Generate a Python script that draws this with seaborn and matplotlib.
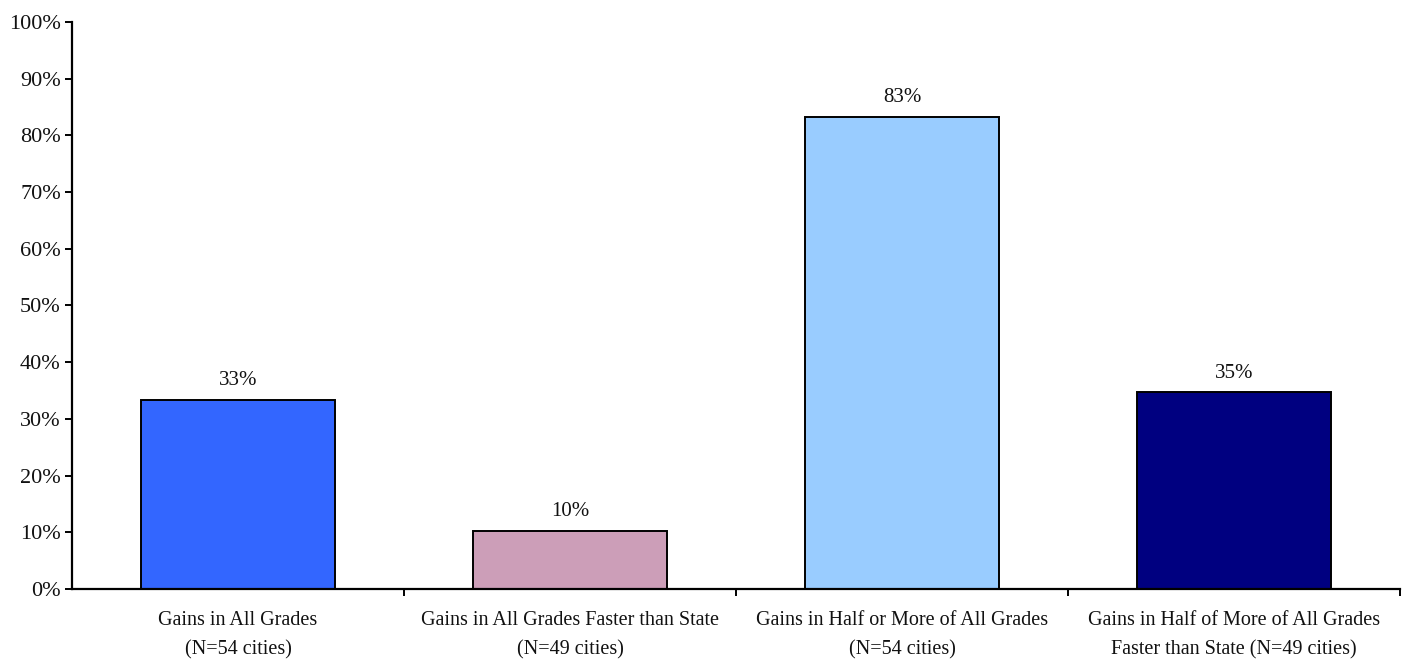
import matplotlib
matplotlib.use("Agg")
import matplotlib.pyplot as plt
import seaborn as sns
import pandas as pd
from matplotlib.ticker import FixedLocator

categories = [
    "Gains in All Grades\n(N=54 cities)",
    "Gains in All Grades Faster than State\n(N=49 cities)",
    "Gains in Half or More of All Grades\n(N=54 cities)",
    "Gains in Half of More of All Grades\nFaster than State (N=49 cities)",
]
values = [33.3, 10.2, 83.3, 34.7]
value_labels = ["33%", "10%", "83%", "35%"]
colors = ["#3366FF", "#CC9EB8", "#99CCFF", "#000080"]
yticks = list(range(0, 101, 10))
ytick_labels = [f"{t}%" for t in yticks]

sns.set_theme(style="white")
plt.rcParams["font.family"] = ["Liberation Serif", "DejaVu Serif"]

fig = plt.figure(figsize=(14.03, 6.6), dpi=100)
ax = fig.add_axes([0.0513, 0.1076, 0.9467, 0.8591])

df = pd.DataFrame({"cat": categories, "val": values})
sns.barplot(data=df, x="cat", y="val", hue="cat", palette=colors, saturation=1,
            width=0.585, edgecolor="black", linewidth=1.4, legend=False, ax=ax)

for cont, lab in zip(ax.containers, value_labels):
    ax.bar_label(cont, labels=[lab], padding=7, fontsize=15, color="#111111")

ax.set_xlim(-0.5, 3.5)
ax.set_ylim(0, 100)
ax.set_yticks(yticks)
ax.set_yticklabels(ytick_labels, fontsize=16, color="#111111")
ax.set_xticks(range(len(categories)))
ax.set_xticklabels(categories, fontsize=14.5, linespacing=1.7, color="#111111")
ax.xaxis.set_minor_locator(FixedLocator([0.5, 1.5, 2.5, 3.5]))
ax.tick_params(axis="x", which="major", length=0, pad=16)
ax.tick_params(axis="x", which="minor", length=5, width=1.4, color="black", bottom=True)
ax.tick_params(axis="y", which="major", length=5, width=1.4, color="black", left=True, pad=3)
ax.set_xlabel("")
ax.set_ylabel("")

for s in ["top", "right"]:
    ax.spines[s].set_visible(False)
for s in ["left", "bottom"]:
    ax.spines[s].set_color("black")
    ax.spines[s].set_linewidth(1.6)

fig.savefig("out.png", dpi=100, facecolor="white")
